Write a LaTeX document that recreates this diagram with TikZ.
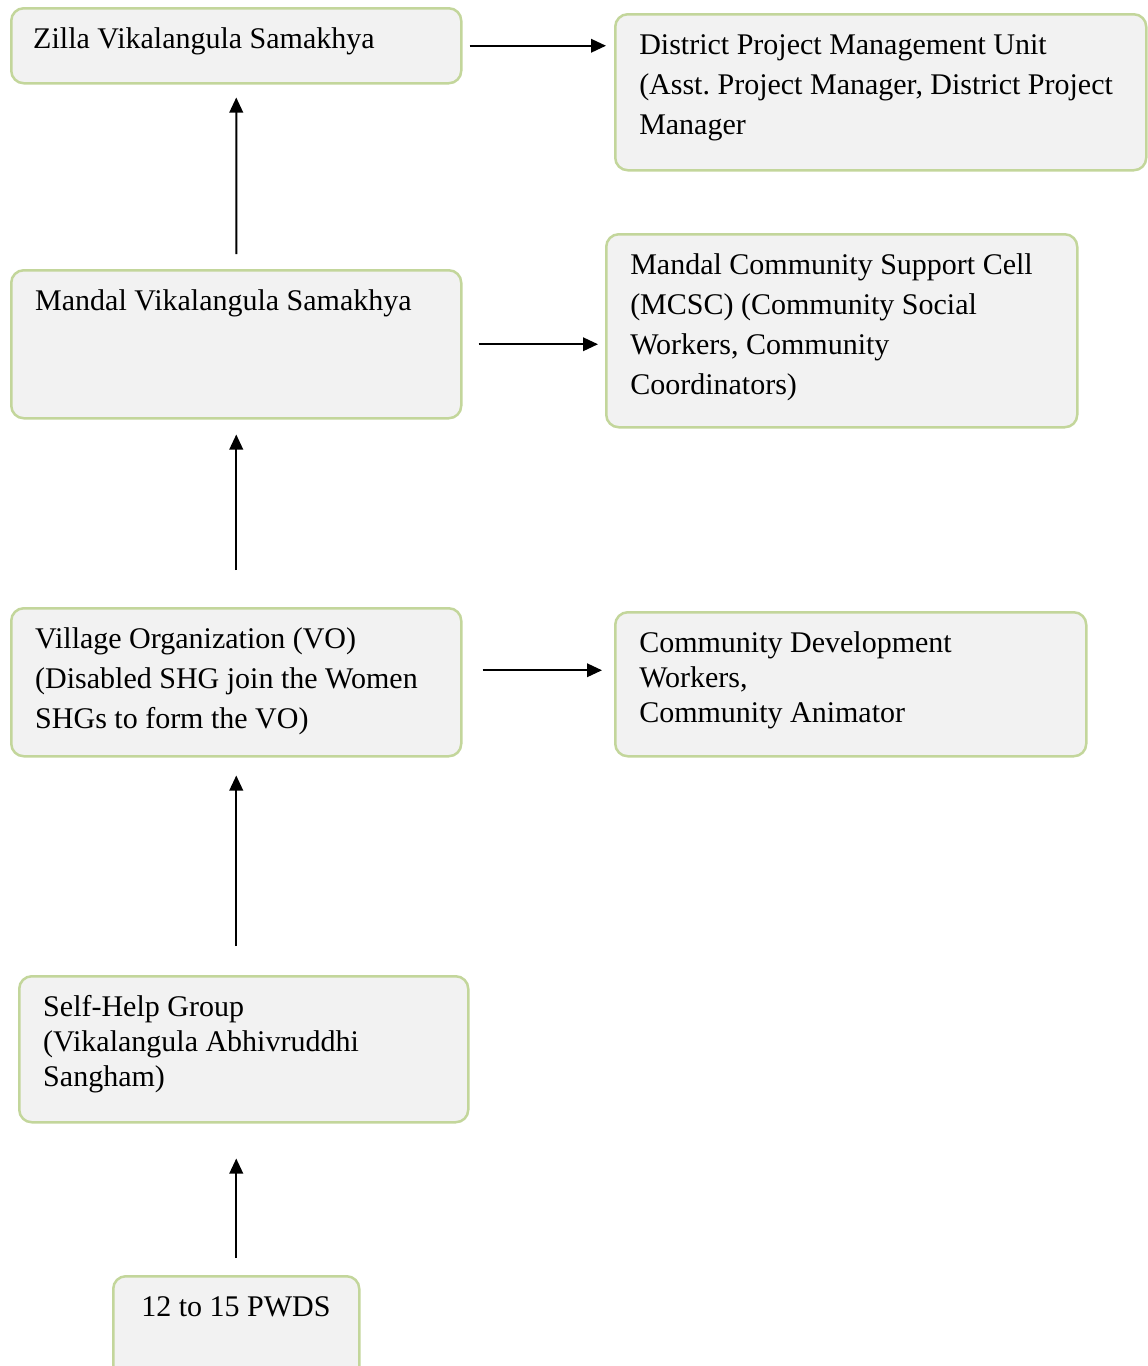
\documentclass[tikz,border=0pt]{standalone}
\usepackage{fontspec}
\setmainfont{Liberation Serif}
\usepackage{xcolor}
\usepackage{tikz}
\usetikzlibrary{arrows.meta,calc}

\definecolor{boxline}{RGB}{195,214,155}
\definecolor{boxfill}{RGB}{242,242,242}
\newlength{\px}
\setlength{\px}{0.4pt}
\newcommand{\unittext}[3]{\parbox[t][#2\px][t]{#1\px}{\raggedright\rule{0pt}{28\px}#3}}

\begin{document}
\begin{tikzpicture}[
    x=0.4pt, y=-0.4pt,
    unit/.style={draw=boxline, fill=boxfill, line width=1pt, rounded corners=5pt, anchor=north west, inner xsep=9.6pt, inner ysep=4.8pt, font=\fontsize{12}{16}\selectfont},
    tight/.style={font=\fontsize{12}{14}\selectfont},
    arrow/.style={-{Triangle[length=6pt,width=5.4pt]}, line width=0.8pt}
]
    \useasboundingbox (0,0) rectangle (1147,1366);

    % left column
    \node[unit, inner xsep=8.8pt] (zvs) at (10,7) {\unittext{406}{51}{Zilla Vikalangula Samakhya}};
    \node[unit] (mvs) at (10,269) {\unittext{402}{124}{Mandal Vikalangula Samakhya}};
    \node[unit] (vo) at (10,607) {\unittext{402}{124}{Village Organization (VO)\\(Disabled SHG join the Women\\SHGs to form the VO)}};
    \node[unit, tight] (shg) at (18,975) {\unittext{401}{122}{Self-Help Group\\(Vikalangula Abhivruddhi\\Sangham)}};
    \node[unit, inner xsep=11.2pt] (pwds) at (112,1275) {\unittext{190}{81}{12 to 15 PWDS}};

    % right column
    \node[unit] (dpmu) at (614,13) {\unittext{483}{132}{District Project Management Unit\\(Asst.\ Project Manager, District Project\\Manager}};
    \node[unit] (mcsc) at (605,233) {\unittext{423}{169}{Mandal Community Support Cell\\(MCSC) (Community Social\\Workers, Community\\Coordinators)}};
    \node[unit, tight] (cdw) at (614,611) {\unittext{423}{120}{Community Development\\Workers,\\Community Animator}};

    % upward links
    \draw[arrow, shorten <=6pt, shorten >=5.2pt] (mvs.north) -- (zvs.south);
    \draw[arrow, shorten <=14.8pt, shorten >=6pt] (vo.north) -- (mvs.south);
    \draw[arrow, shorten <=11.6pt, shorten >=7.2pt] (shg.north -| vo.south) -- (vo.south);
    \draw[arrow, shorten <=6.8pt, shorten >=14pt] (pwds.north) -- (pwds.north |- shg.south);

    % side links
    \draw[arrow, shorten <=2.8pt, shorten >=3.2pt] (zvs.east) -- (zvs.east -| dpmu.west);
    \draw[arrow, shorten <=6.4pt, shorten >=2.8pt] (mvs.east) -- (mvs.east -| mcsc.west);
    \draw[arrow, shorten <=8pt, shorten >=4.8pt] ([yshift=4.8pt]vo.east) -- ([yshift=4.8pt]vo.east -| cdw.west);
\end{tikzpicture}
\end{document}
